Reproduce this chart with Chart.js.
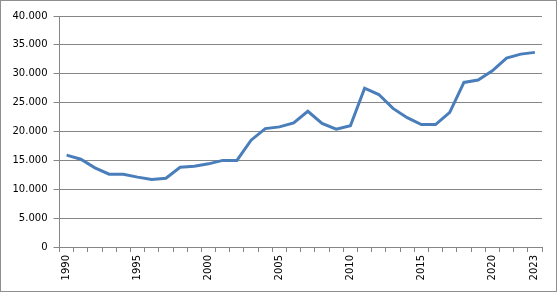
<!DOCTYPE html>
<html>
<head>
<meta charset="utf-8">
<script src="https://cdn.jsdelivr.net/npm/chart.js@4/dist/chart.umd.min.js"></script>
<style>
  body { margin: 0; background: #fff; }
  #wrap { position: relative; width: 557px; height: 292px; }
  #frame { position: absolute; left: 0; top: 0; width: 557px; height: 292px;
           box-sizing: border-box; border: 1px solid #8e8e8e; pointer-events: none; }
</style>
</head>
<body>
<div id="wrap">
  <canvas id="chart" width="557" height="292"></canvas>
  <div id="frame"></div>
</div>
<script>
// years on the x axis
var years = [];
for (var y = 1990; y <= 2023; y++) years.push(String(y));

// values
var values = [15900, 15200, 13700, 12600, 12600, 12100, 11700, 11900, 13800, 14000,
              14400, 15000, 15000, 18500, 20500, 20800, 21500, 23500, 21400, 20400,
              21000, 27500, 26400, 24000, 22400, 21200, 21200, 23300, 28500, 28900,
              30500, 32700, 33400, 33700];

// which year labels are printed
var shownYears = ['1990', '1995', '2000', '2005', '2010', '2015', '2020', '2023'];

var yMin = 0, yMax = 40000, yStep = 5000;

var gridColor = '#868686';
var fontSpec = { family: 'DejaVu Sans', size: 10 };

function fmt(v) {
    // 40000 -> 40.000
    return String(v).replace(/\B(?=(\d{3})+(?!\d))/g, '.');
}

var ctx = document.getElementById('chart').getContext('2d');
new Chart(ctx, {
    type: 'line',
    data: {
        labels: years,
        datasets: [{
            data: values,
            borderColor: '#4A7EBB',
            borderWidth: 3,
            pointRadius: 0,
            tension: 0,
            fill: false
        }]
    },
    options: {
        responsive: false,
        animation: false,
        layout: { padding: { top: 16, right: 15, left: 0, bottom: 0 } },
        plugins: { legend: { display: false }, tooltip: { enabled: false } },
        scales: {
            x: {
                offset: true,
                grid: { offset: true, drawOnChartArea: false, drawTicks: true, tickLength: 5, color: gridColor },
                border: { color: gridColor },
                ticks: {
                    autoSkip: false,
                    minRotation: 90,
                    maxRotation: 90,
                    padding: 3,
                    color: '#000',
                    font: fontSpec,
                    callback: function(v, i) {
                        var lab = years[i];
                        return shownYears.indexOf(lab) >= 0 ? lab : '';
                    }
                },
                afterFit: function(scale) { scale.height = 45; }
            },
            y: {
                min: yMin,
                max: yMax,
                grid: { color: gridColor, tickLength: 6 },
                border: { color: gridColor },
                ticks: {
                    stepSize: yStep,
                    padding: 6,
                    color: '#000',
                    font: fontSpec,
                    callback: function(v) { return fmt(v); }
                },
                afterFit: function(scale) { scale.width = 59.5; }
            }
        }
    }
});
</script>
</body>
</html>
